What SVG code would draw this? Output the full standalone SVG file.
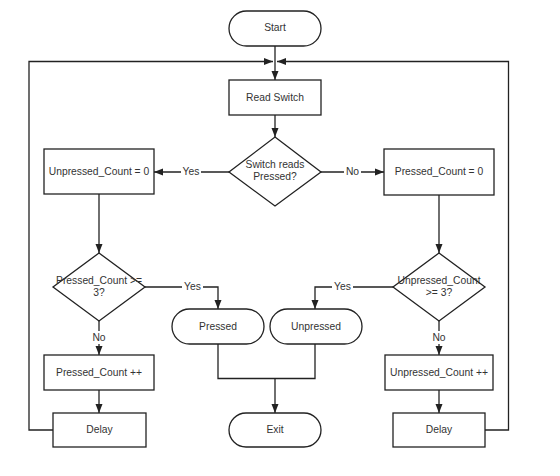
<svg xmlns="http://www.w3.org/2000/svg" width="560" height="476" viewBox="0 0 560 476">
<defs>
<marker id="ah" markerWidth="9" markerHeight="8" refX="9" refY="4" orient="auto" markerUnits="userSpaceOnUse">
<path d="M0,0.5 L9,4 L0,7.5 z" fill="#222"/>
</marker>
<style>
.shape{fill:#fff;stroke:#222;stroke-width:1.3}
.ln{fill:none;stroke:#222;stroke-width:1.3}
.arr{marker-end:url(#ah)}
text{font-family:"Liberation Sans",Arial,sans-serif;font-size:10.3px;fill:#333;text-anchor:middle;dominant-baseline:central}
.lbl{fill:#fff;stroke:none}
</style>
</defs>
<rect width="560" height="476" fill="#fff"/>
<g id="connectors">
<line class="ln arr" x1="275" y1="46" x2="275" y2="80"/>
<polyline class="ln arr" points="53,430 29,430 29,61.5 273,61.5"/>
<polyline class="ln arr" points="485,430 508.5,430 508.5,61.5 277,61.5"/>
<line class="ln arr" x1="275" y1="115" x2="275" y2="137"/>
<line class="ln arr" x1="229" y1="172" x2="154" y2="172"/>
<line class="ln arr" x1="321" y1="172" x2="384" y2="172"/>
<line class="ln arr" x1="99" y1="194" x2="99" y2="253"/>
<line class="ln arr" x1="439" y1="195" x2="439" y2="253"/>
<polyline class="ln arr" points="145,287 218,287 218,309"/>
<polyline class="ln arr" points="393,287 315,287 315,309"/>
<line class="ln arr" x1="99" y1="321" x2="99" y2="355"/>
<line class="ln arr" x1="439" y1="321" x2="439" y2="355"/>
<line class="ln arr" x1="99" y1="390" x2="99" y2="413"/>
<line class="ln arr" x1="439" y1="390" x2="439" y2="413"/>
<polyline class="ln" points="218,344 218,378.5 315,378.5 315,344"/>
<line class="ln arr" x1="275" y1="378.5" x2="275" y2="413"/>
<rect class="lbl" x="181" y="165" width="20" height="13"/>
<text x="191" y="171.5">Yes</text>
<rect class="lbl" x="344" y="165" width="17" height="13"/>
<text x="352.5" y="171.5">No</text>
<rect class="lbl" x="182" y="280" width="21" height="13"/>
<text x="192.5" y="286">Yes</text>
<rect class="lbl" x="332" y="280" width="21" height="13"/>
<text x="342.5" y="286">Yes</text>
<rect class="lbl" x="90" y="331" width="18" height="13"/>
<text x="99" y="337.5">No</text>
<rect class="lbl" x="430" y="331" width="18" height="13"/>
<text x="439" y="337.5">No</text>
</g>
<g id="start">
<rect class="shape" x="229" y="11" width="92" height="35" rx="17.5"/>
<text x="275" y="27.5">Start</text>
</g>
<g id="read-switch">
<rect class="shape" x="229" y="80" width="92" height="35"/>
<text x="275" y="97">Read Switch</text>
</g>
<g id="switch-decision">
<polygon class="shape" points="275,137 321,172 275,206 229,172"/>
<text x="275" y="164.5">Switch reads</text>
<text x="275" y="176.5">Pressed?</text>
</g>
<g id="unpressed-zero">
<rect class="shape" x="44" y="149" width="110" height="45"/>
<text x="99" y="171.5">Unpressed_Count = 0</text>
</g>
<g id="pressed-zero">
<rect class="shape" x="384" y="149" width="110" height="46"/>
<text x="439" y="171.5">Pressed_Count = 0</text>
</g>
<g id="pressed-check">
<polygon class="shape" points="99,253 145,287 99,321 53,287"/>
<text x="99" y="280.5">Pressed_Count &gt;=</text>
<text x="99" y="292.5">3?</text>
</g>
<g id="unpressed-check">
<polygon class="shape" points="439,253 485,287 439,321 393,287"/>
<text x="439" y="280.5">Unpressed_Count</text>
<text x="439" y="292.5">&gt;= 3?</text>
</g>
<g id="pressed-end">
<rect class="shape" x="172" y="309" width="92" height="35" rx="17.5"/>
<text x="218" y="326">Pressed</text>
</g>
<g id="unpressed-end">
<rect class="shape" x="270" y="309" width="92" height="35" rx="17.5"/>
<text x="316" y="326">Unpressed</text>
</g>
<g id="pressed-inc">
<rect class="shape" x="44" y="355" width="110" height="35"/>
<text x="99" y="372">Pressed_Count ++</text>
</g>
<g id="unpressed-inc">
<rect class="shape" x="385" y="355" width="108" height="35"/>
<text x="439" y="372">Unpressed_Count ++</text>
</g>
<g id="delay-left">
<rect class="shape" x="53" y="413" width="93" height="34"/>
<text x="99.5" y="429.5">Delay</text>
</g>
<g id="exit">
<rect class="shape" x="229" y="413" width="92" height="34" rx="17"/>
<text x="275" y="429.5">Exit</text>
</g>
<g id="delay-right">
<rect class="shape" x="393" y="413" width="92" height="34"/>
<text x="439" y="429.5">Delay</text>
</g>
</svg>
